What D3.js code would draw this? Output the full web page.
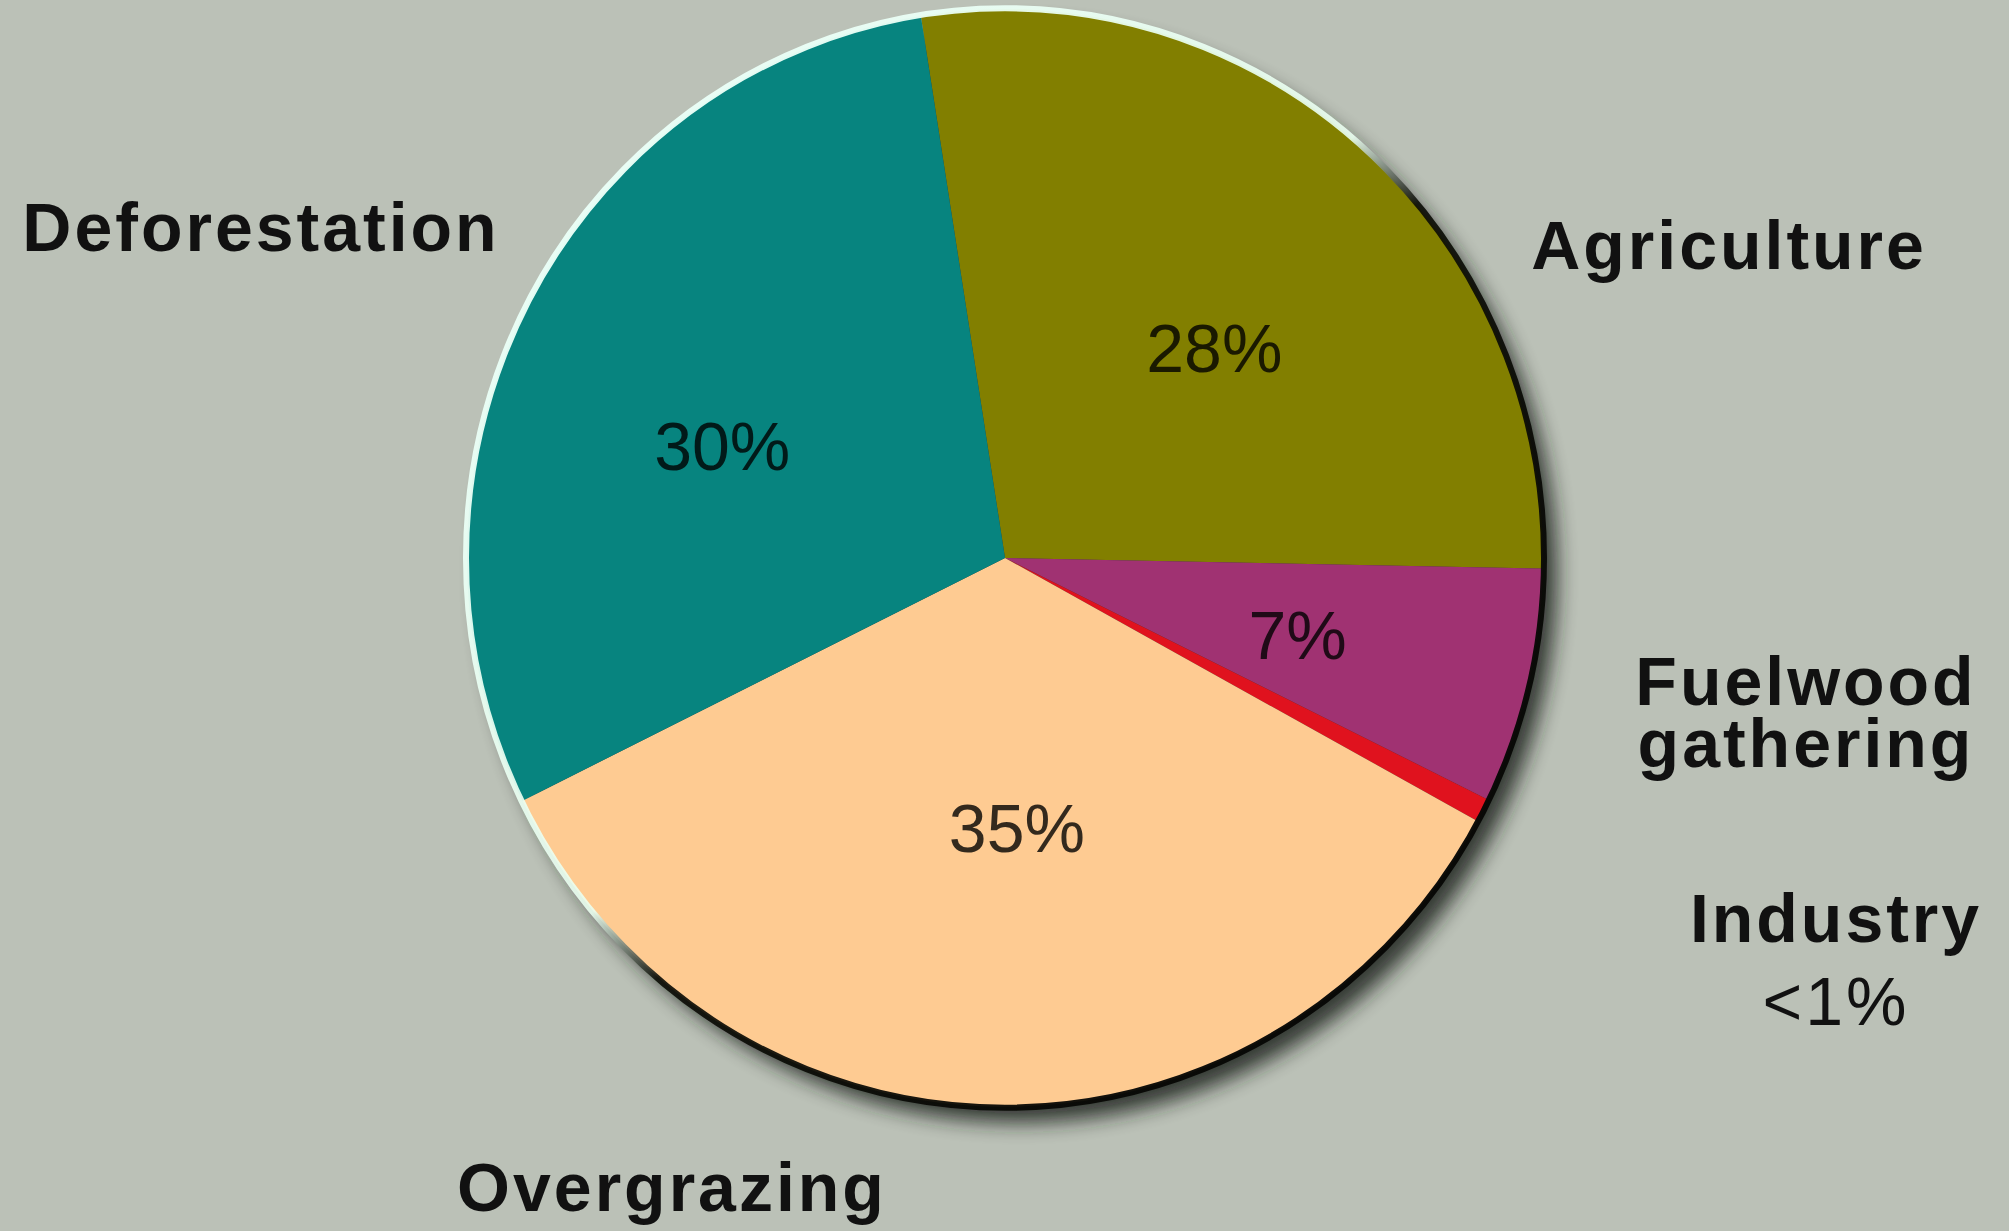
<!DOCTYPE html>
<html>
<head>
<meta charset="utf-8">
<script src="https://cdn.jsdelivr.net/npm/d3@7"></script>
<style>
  html, body { margin: 0; padding: 0; background: #bbc1b7; }
  svg { display: block; }
  text { font-family: "Liberation Sans", Arial, sans-serif; }
</style>
</head>
<body>
<svg id="chart" width="2009" height="1231"></svg>
<script>
// Causes of land degradation (share of total, %)
const categories = ["Agriculture", "Fuelwood gathering", "Industry", "Overgrazing", "Deforestation"];
const shares = [28, 7, 0.7, 35, 30];
const shareLabels = ["28%", "7%", "<1%", "35%", "30%"];
const sliceColors = ["#827f00", "#a03272", "#e0121e", "#fecb92", "#07847f"];

// Outer caption lines for each category
const captionLines = {
  "Agriculture": ["Agriculture"],
  "Fuelwood gathering": ["Fuelwood", "gathering"],
  "Industry": ["Industry", "<1%"],
  "Overgrazing": ["Overgrazing"],
  "Deforestation": ["Deforestation"]
};

// Layout
const W = 2009, H = 1231;
const cx = 1005, cy = 558, R = 538, squash = 1.02;
const captionPos = {
  "Agriculture": { x: 1729, y: 269, gap: 0, size: 68 },
  "Fuelwood gathering": { x: 1806, y: 705, gap: 62, size: 68 },
  "Industry": { x: 1836, y: 942, gap: 83, size: 68 },
  "Overgrazing": { x: 672, y: 1211, gap: 0, size: 68 },
  "Deforestation": { x: 261, y: 251, gap: 0, size: 68 }
};
// Fine placement of the in-slice percentages relative to the slice centroid
const insideNudge = {
  "Agriculture": [15, 18],
  "Fuelwood gathering": [5, 6],
  "Overgrazing": [18, -32],
  "Deforestation": [-20, 27]
};

const svg = d3.select("#chart");
svg.append("rect").attr("width", W).attr("height", H).attr("fill", "#bbc1b7");

const defs = svg.append("defs");
defs.append("filter").attr("id", "soft")
  .attr("x", "-10%").attr("y", "-10%").attr("width", "120%").attr("height", "120%")
  .append("feGaussianBlur").attr("stdDeviation", 10);

const rim = defs.append("linearGradient").attr("id", "rim")
  .attr("x1", 0).attr("y1", 0).attr("x2", 1).attr("y2", 1);
rim.append("stop").attr("offset", 0).attr("stop-color", "#eafffa");
rim.append("stop").attr("offset", 0.47).attr("stop-color", "#eafff0").attr("stop-opacity", 0.9);
rim.append("stop").attr("offset", 0.53).attr("stop-color", "#0b0c05").attr("stop-opacity", 0.9);
rim.append("stop").attr("offset", 1).attr("stop-color", "#050505");

const pie = d3.pie().sort(null).value(d => d)
  .startAngle(-9 * Math.PI / 180)
  .endAngle(351 * Math.PI / 180);
const arcs = pie(shares);

const arc = d3.arc().innerRadius(0).outerRadius(R);
const labelArc = d3.arc().innerRadius(R * 0.55).outerRadius(R * 0.55);

// Drop shadow under the disc
svg.append("ellipse")
  .attr("cx", cx + 14).attr("cy", cy + 16)
  .attr("rx", R).attr("ry", R * squash)
  .attr("fill", "#1f241f").attr("opacity", 0.85)
  .attr("filter", "url(#soft)");

const g = svg.append("g").attr("transform", `translate(${cx},${cy}) scale(1,${squash})`);

g.selectAll("path.slice")
  .data(arcs)
  .join("path")
  .attr("class", "slice")
  .attr("d", arc)
  .attr("fill", (d, i) => sliceColors[i]);

// Lit rim on the upper left, dark rim on the lower right
g.append("circle")
  .attr("r", R + 1)
  .attr("fill", "none")
  .attr("stroke", "url(#rim)")
  .attr("stroke-width", 6);

// Percentages inside the larger slices
const inside = arcs.filter((d, i) => shares[i] >= 5);
svg.append("g").attr("transform", `translate(${cx},${cy})`)
  .selectAll("text")
  .data(inside)
  .join("text")
  .attr("x", d => labelArc.centroid(d)[0] + insideNudge[categories[d.index]][0])
  .attr("y", d => labelArc.centroid(d)[1] * squash + 24 + insideNudge[categories[d.index]][1])
  .attr("text-anchor", "middle")
  .attr("font-size", 68)
  .attr("fill", "#000")
  .attr("fill-opacity", 0.8)
  .text(d => shareLabels[d.index]);

// Category captions around the pie (multi-line captions share one text element)
const caps = svg.append("g");
categories.forEach(name => {
  const p = captionPos[name];
  const t = caps.append("text")
    .attr("text-anchor", "middle")
    .attr("font-size", p.size)
    .attr("letter-spacing", 3)
    .attr("fill", "#111");
  captionLines[name].forEach((line, k) => {
    t.append("tspan")
      .attr("x", p.x)
      .attr("y", p.y + k * p.gap)
      .attr("font-weight", line === "<1%" ? "normal" : "bold")
      .text(line);
  });
});
</script>
</body>
</html>
